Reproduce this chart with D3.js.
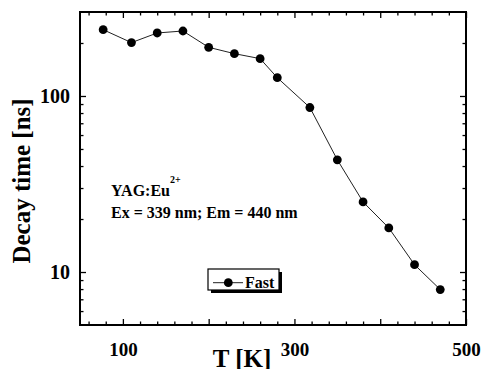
<!DOCTYPE html>
<html>
<head>
<meta charset="utf-8">
<script src="https://cdn.jsdelivr.net/npm/d3@7"></script>
<style>
  body { margin: 0; background: #fff; }
  svg { display: block; }
  text { font-family: "Liberation Serif", "Times New Roman", serif; font-weight: bold; fill: #000; }
</style>
</head>
<body>
<div id="chart"></div>
<script>
// data
const temperature = [77, 110, 140, 170, 200, 230, 260, 280, 318, 350, 380, 410, 440, 470];
const decayFast = [238, 201, 228, 234, 189, 174, 163, 127, 86, 43.4, 25, 17.8, 11, 7.95];
const xMajorTicks = [100, 200, 300, 400, 500];
const xLabelTicks = [100, 300, 500];
const xMinorTicks = d3.range(60, 500, 20).filter(v => v % 100 !== 0);
const yMajorTicks = [10, 100];
const yMinorTicks = [6, 7, 8, 9, 20, 30, 40, 50, 60, 70, 80, 90, 200];
const seriesName = 'Fast';

const width = 482, height = 369;
const margin = {left: 80, right: 16, top: 12, bottom: 44};

const svg = d3.select('#chart').append('svg')
  .attr('width', width)
  .attr('height', height);

const x = d3.scaleLinear().domain([50, 500]).range([margin.left, width - margin.right]);
const y = d3.scaleLog().domain([5, 300]).range([height - margin.bottom, margin.top]);

const x0 = x.range()[0], x1 = x.range()[1];
const y0 = y.range()[0], y1 = y.range()[1];

// axes, ticks pointing inside the frame
function addAxis(axis, tx, ty) {
  const g = svg.append('g').attr('transform', `translate(${tx},${ty})`).call(axis);
  g.select('.domain').remove();
  g.selectAll('line').attr('stroke', '#000').attr('stroke-width', 1.3);
  return g;
}

const bottom = addAxis(d3.axisBottom(x).tickValues(xMajorTicks).tickSize(-6).tickPadding(17.5)
  .tickFormat(d => xLabelTicks.includes(d) ? d : ''), 0, y0);
bottom.selectAll('text').style('font-size', '19px').style('font-family', null);
addAxis(d3.axisBottom(x).tickValues(xMinorTicks).tickSize(-3.5).tickFormat(''), 0, y0);
addAxis(d3.axisTop(x).tickValues(xMajorTicks).tickSize(-6).tickFormat(''), 0, y1);
addAxis(d3.axisTop(x).tickValues(xMinorTicks).tickSize(-3.5).tickFormat(''), 0, y1);

const left = addAxis(d3.axisLeft(y).tickValues(yMajorTicks).tickSize(-6).tickPadding(10)
  .tickFormat(d3.format('d')), x0, 0);
left.selectAll('text').style('font-size', '20px').style('font-family', null);
addAxis(d3.axisLeft(y).tickValues(yMinorTicks).tickSize(-3.5).tickFormat(''), x0, 0);
addAxis(d3.axisRight(y).tickValues(yMajorTicks).tickSize(-6).tickFormat(''), x1, 0);
addAxis(d3.axisRight(y).tickValues(yMinorTicks).tickSize(-3.5).tickFormat(''), x1, 0);

// frame
svg.append('rect')
  .attr('x', x0).attr('y', y1)
  .attr('width', x1 - x0).attr('height', y0 - y1)
  .attr('fill', 'none').attr('stroke', '#000').attr('stroke-width', 2);

// series
const pts = temperature.map((t, i) => [t, decayFast[i]]);
svg.append('path')
  .datum(pts)
  .attr('fill', 'none')
  .attr('stroke', '#222')
  .attr('stroke-width', 1)
  .attr('d', d3.line().x(d => x(d[0])).y(d => y(d[1])));

svg.append('g').selectAll('circle')
  .data(pts)
  .enter()
  .append('circle')
  .attr('cx', d => x(d[0]))
  .attr('cy', d => y(d[1]))
  .attr('r', 4.4)
  .attr('fill', '#000');

// axis titles
svg.append('text')
  .text('T [K]')
  .attr('x', 242).attr('y', 367)
  .attr('text-anchor', 'middle')
  .style('font-size', '25px');

svg.append('text')
  .text('Decay time [ns]')
  .attr('transform', 'translate(29.5,181) rotate(-90)')
  .attr('text-anchor', 'middle')
  .style('font-size', '25px');

// annotation
const note = svg.append('text').attr('x', 111).attr('y', 196).style('font-size', '16px');
note.append('tspan').text('YAG:Eu');
note.append('tspan').text('2+').attr('dy', -13).style('font-size', '10px');
svg.append('text').text('Ex = 339 nm; Em = 440 nm')
  .attr('x', 111).attr('y', 218).style('font-size', '16px');

// legend
const lg = svg.append('g').attr('transform', 'translate(208,269)');
lg.append('rect').attr('x', 3).attr('y', 3).attr('width', 71).attr('height', 21).attr('fill', '#000');
lg.append('rect').attr('width', 71).attr('height', 21)
  .attr('fill', '#fff').attr('stroke', '#000').attr('stroke-width', 1.2);
lg.append('line').attr('x1', 5).attr('x2', 35).attr('y1', 13.7).attr('y2', 13.7)
  .attr('stroke', '#222').attr('stroke-width', 1);
lg.append('circle').attr('cx', 20.3).attr('cy', 13.7).attr('r', 4.4).attr('fill', '#000');
lg.append('text').text(seriesName).attr('x', 37).attr('y', 19).style('font-size', '16px');
</script>
</body>
</html>
